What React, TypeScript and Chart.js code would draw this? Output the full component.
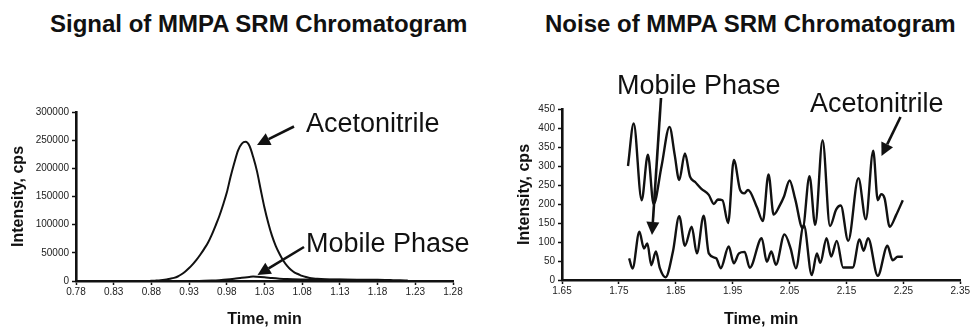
import React, { useEffect, useRef } from "react";
import { Chart, registerables } from "chart.js";

Chart.register(...registerables);

// ---------- Signal chart data ----------
const signalXTicks = [0.78, 0.83, 0.88, 0.93, 0.98, 1.03, 1.08, 1.13, 1.18, 1.23, 1.28];
const signalTime = [
  0.875, 0.88, 0.885, 0.89, 0.895, 0.9, 0.905, 0.91, 0.915, 0.92, 0.925, 0.93, 0.935, 0.94, 0.945,
  0.95, 0.955, 0.96, 0.965, 0.97, 0.975, 0.98, 0.985, 0.99, 0.995, 1.0, 1.005, 1.01, 1.015, 1.02,
  1.025, 1.03, 1.035, 1.04, 1.045, 1.05, 1.055, 1.06, 1.065, 1.07, 1.075, 1.08, 1.085, 1.09, 1.095,
  1.1, 1.11, 1.12, 1.13, 1.14, 1.15, 1.16, 1.17, 1.18, 1.19, 1.2, 1.21, 1.22,
];
const signalAcetonitrile = [
  0, 300, 600, 1000, 1800, 2800, 4000, 5500, 8000, 12000, 17000, 23000, 30000, 38000, 47000,
  57000, 68000, 82000, 98000, 115000, 135000, 157000, 185000, 210000, 232000, 244000, 247000, 240000, 220000, 195000,
  162000, 130000, 103000, 80000, 62000, 48000, 36000, 27000, 20000, 15000, 12000, 9000, 7000, 5500, 4500,
  3800, 3000, 2800, 2500, 2300, 2200, 2000, 2100, 2000, 1800, 1500, 1200, 1000,
];
const signalMobileTime = [0.94, 0.95, 0.96, 0.97, 0.98, 0.99, 1.0, 1.01, 1.015, 1.02, 1.03, 1.04, 1.05, 1.06, 1.08, 1.1, 1.12, 1.14, 1.16, 1.18, 1.2];
const signalMobile = [0, 300, 800, 1500, 2500, 4000, 5800, 7200, 7800, 7500, 6500, 5200, 4200, 3500, 2800, 2400, 2200, 2000, 1600, 1200, 600];

// ---------- Noise chart data ----------
const noiseXTicks = [1.65, 1.75, 1.85, 1.95, 2.05, 2.15, 2.25, 2.35];
const noiseAcnTime = [
  1.766, 1.776, 1.79, 1.801, 1.811, 1.825, 1.839, 1.848, 1.856, 1.866, 1.875, 1.884, 1.895, 1.908, 1.917,
  1.924, 1.932, 1.942, 1.952, 1.963, 1.97, 1.977, 1.993, 2.003, 2.013, 2.022, 2.033, 2.04, 2.05, 2.06,
  2.073, 2.085, 2.095, 2.108, 2.121, 2.132, 2.14, 2.153, 2.171, 2.184, 2.197, 2.205, 2.211, 2.217, 2.226,
  2.237, 2.249,
];
const noiseAcn = [
  300, 412, 210, 330, 200, 300, 403, 330, 263, 333, 272, 258, 240, 224, 200,
  212, 210, 150, 316, 237, 228, 237, 190, 155, 278, 172, 197, 219, 262, 212,
  136, 273, 145, 368, 142, 186, 196, 103, 268, 160, 340, 210, 226, 215, 140,
  170, 210,
];
const noiseMobTime = [
  1.768, 1.774, 1.786, 1.794, 1.8, 1.807, 1.815, 1.822, 1.832, 1.845, 1.856, 1.866, 1.878, 1.887, 1.899,
  1.908, 1.921, 1.929, 1.943, 1.952, 1.961, 1.971, 1.98, 2.001, 2.01, 2.018, 2.026, 2.041, 2.052, 2.061,
  2.075, 2.089, 2.098, 2.104, 2.115, 2.123, 2.133, 2.144, 2.161, 2.173, 2.18, 2.188, 2.205, 2.222, 2.231,
  2.24, 2.249,
];
const noiseMob = [
  57, 30, 127, 83, 96, 39, 75, 31, 7, 75, 168, 90, 140, 70, 169,
  70, 57, 31, 88, 44, 70, 74, 32, 110, 48, 75, 40, 120, 82, 31,
  145, 13, 70, 45, 110, 62, 103, 33, 33, 107, 77, 110, 11, 90, 52,
  61, 61,
];

const FONT = '"Liberation Sans", Arial, Helvetica, sans-serif';
const INK = "#111";

type Ann = { text: string; tx: number; ty: number; from: [number, number]; to: [number, number] };

const signalAnnotations: Ann[] = [
  { text: "Acetonitrile", tx: 306, ty: 131.5, from: [294, 126.5], to: [257, 145] },
  { text: "Mobile Phase", tx: 306, ty: 251.5, from: [304, 247], to: [257.5, 275] },
];
const noiseAnnotations: Ann[] = [
  { text: "Mobile Phase", tx: 132, ty: 93.5, from: [176, 98], to: [167, 235] },
  { text: "Acetonitrile", tx: 325, ty: 111.7, from: [415.5, 117], to: [396.5, 156] },
];

function arrowPlugin(anns: Ann[]) {
  return {
    id: "arrowNotes",
    afterDraw(chart: any) {
      const ctx = chart.ctx as CanvasRenderingContext2D;
      ctx.save();
      ctx.font = `27px ${FONT}`;
      ctx.fillStyle = INK;
      ctx.strokeStyle = INK;
      ctx.textBaseline = "alphabetic";
      ctx.textAlign = "left";
      for (const a of anns) {
        ctx.fillText(a.text, a.tx, a.ty);
        const [x1, y1] = a.from;
        const [x2, y2] = a.to;
        const ang = Math.atan2(y2 - y1, x2 - x1);
        const headLen = 13;
        const headW = 6.5;
        const bx = x2 - headLen * Math.cos(ang);
        const by = y2 - headLen * Math.sin(ang);
        ctx.lineWidth = 2.6;
        ctx.beginPath();
        ctx.moveTo(x1, y1);
        ctx.lineTo(bx, by);
        ctx.stroke();
        ctx.beginPath();
        ctx.moveTo(x2, y2);
        ctx.lineTo(bx + headW * Math.sin(ang), by - headW * Math.cos(ang));
        ctx.lineTo(bx - headW * Math.sin(ang), by + headW * Math.cos(ang));
        ctx.closePath();
        ctx.fill();
      }
      ctx.restore();
    },
  };
}

function toPoints(xs: number[], ys: number[]) {
  return xs.map((x, i) => ({ x, y: ys[i] }));
}

type Cfg = {
  series: { xs: number[]; ys: number[] }[];
  xTicks: number[];
  yMax: number;
  yStep: number;
  yWidth: number;
  xHeight: number;
  padding: { left: number; top: number; right: number; bottom: number };
  yTitlePad: number;
  lineWidth: number;
  anns: Ann[];
};

function makeConfig(c: Cfg): any {
  return {
    type: "line",
    data: {
      datasets: c.series.map((s) => ({
        data: toPoints(s.xs, s.ys),
        borderColor: INK,
        borderWidth: c.lineWidth,
        pointRadius: 0,
        fill: false,
        cubicInterpolationMode: "monotone",
      })),
    },
    options: {
      responsive: false,
      animation: false,
      events: [],
      layout: { padding: c.padding },
      plugins: { legend: { display: false }, tooltip: { enabled: false }, title: { display: false } },
      scales: {
        x: {
          type: "linear",
          min: c.xTicks[0],
          max: c.xTicks[c.xTicks.length - 1],
          afterBuildTicks: (s: any) => {
            s.ticks = c.xTicks.map((v) => ({ value: v }));
          },
          afterFit: (s: any) => {
            s.height = c.xHeight;
          },
          ticks: {
            autoSkip: false,
            maxRotation: 0,
            padding: 1,
            color: "#222",
            font: { family: FONT, size: 10 },
            callback: (v: any) => Number(v).toFixed(2),
          },
          grid: { display: true, drawOnChartArea: false, drawTicks: true, tickLength: 4, color: INK, tickWidth: 1.5 },
          border: { display: true, color: INK, width: 2.6 },
          title: {
            display: true,
            text: "Time, min",
            color: INK,
            font: { family: FONT, size: 16, weight: "bold" },
            padding: { top: 0, bottom: 0 },
          },
        },
        y: {
          type: "linear",
          min: 0,
          max: c.yMax,
          afterFit: (s: any) => {
            s.width = c.yWidth;
          },
          ticks: {
            stepSize: c.yStep,
            padding: 3,
            color: "#222",
            font: { family: FONT, size: 10 },
            callback: (v: any) => String(v),
          },
          grid: { display: true, drawOnChartArea: false, drawTicks: true, tickLength: 4, color: INK, tickWidth: 1.5 },
          border: { display: true, color: INK, width: 2.6 },
          title: {
            display: true,
            text: "Intensity, cps",
            color: INK,
            font: { family: FONT, size: 16, weight: "bold" },
            padding: { top: c.yTitlePad, bottom: 0 },
          },
        },
      },
    },
    plugins: [arrowPlugin(c.anns)],
  };
}

const titleStyle: React.CSSProperties = {
  position: "absolute",
  top: 12,
  fontFamily: FONT,
  fontWeight: "bold",
  fontSize: 24,
  lineHeight: "24px",
  whiteSpace: "nowrap",
  color: INK,
};

export default function App() {
  const leftRef = useRef<HTMLCanvasElement>(null);
  const rightRef = useRef<HTMLCanvasElement>(null);

  useEffect(() => {
    const left = new Chart(
      leftRef.current!,
      makeConfig({
        series: [
          { xs: signalTime, ys: signalAcetonitrile },
          { xs: signalMobileTime, ys: signalMobile },
        ],
        xTicks: signalXTicks,
        yMax: 300000,
        yStep: 50000,
        yWidth: 76,
        xHeight: 48,
        padding: { left: 0, top: 112, right: 27, bottom: 0 },
        yTitlePad: 9,
        lineWidth: 2,
        anns: signalAnnotations,
      })
    );
    const right = new Chart(
      rightRef.current!,
      makeConfig({
        series: [
          { xs: noiseAcnTime, ys: noiseAcn },
          { xs: noiseMobTime, ys: noiseMob },
        ],
        xTicks: noiseXTicks,
        yMax: 450,
        yStep: 50,
        yWidth: 77,
        xHeight: 49,
        padding: { left: 0, top: 109, right: 10, bottom: 0 },
        yTitlePad: 30,
        lineWidth: 2.4,
        anns: noiseAnnotations,
      })
    );
    return () => {
      left.destroy();
      right.destroy();
    };
  }, []);

  return (
    <div style={{ position: "absolute", left: 0, top: 0, width: 971, height: 329, background: "#fff", overflow: "hidden" }}>
      <div style={{ ...titleStyle, left: 50 }}>Signal of MMPA SRM Chromatogram</div>
      <div style={{ ...titleStyle, left: 545 }}>Noise of MMPA SRM Chromatogram</div>
      <canvas ref={leftRef} width={480} height={329} style={{ position: "absolute", left: 0, top: 0 }} />
      <canvas ref={rightRef} width={486} height={329} style={{ position: "absolute", left: 485, top: 0 }} />
    </div>
  );
}
